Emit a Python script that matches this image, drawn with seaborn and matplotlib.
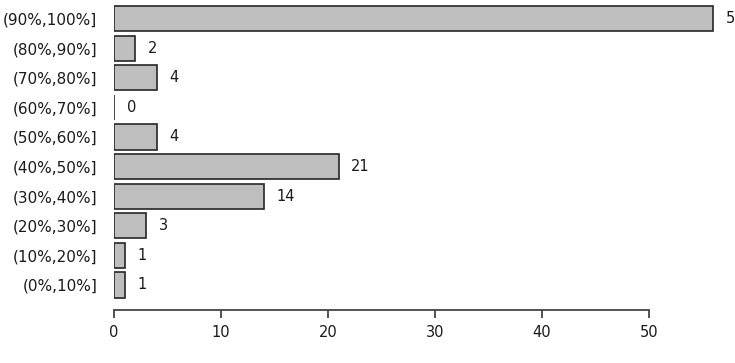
import matplotlib
matplotlib.use("Agg")
import matplotlib.pyplot as plt
import seaborn as sns
import pandas as pd

categories = ["(90%,100%]", "(80%,90%]", "(70%,80%]", "(60%,70%]", "(50%,60%]",
              "(40%,50%]", "(30%,40%]", "(20%,30%]", "(10%,20%]", "(0%,10%]"]
counts = [56, 2, 4, 0, 4, 21, 14, 3, 1, 1]
xticks = [0, 10, 20, 30, 40, 50]

sns.set_style("white")
plt.rcParams["font.family"] = ["DejaVu Sans"]

df = pd.DataFrame({"cat": categories, "n": counts})

fig = plt.figure(figsize=(7.35, 3.63), dpi=100)
W, H = 735, 363
left, right = 114, 735
top, bottom = 3.7, 299.8
ax = fig.add_axes([left / W, 1 - bottom / H, (right - left) / W, (bottom - top) / H])

sns.barplot(data=df, x="n", y="cat", order=categories, color="#bebebe",
            saturation=1, width=0.85, edgecolor="#262626", linewidth=1.2, ax=ax)

units_per_px = 10 / 107.0
ax.set_xlim(0, (right - left) * units_per_px)
ax.set_ylim(9.5, -0.5)

for i, v in enumerate(counts):
    ax.annotate(str(v), xy=(v, i), xytext=(9, 0), textcoords="offset points",
                ha="left", va="center", fontsize=10.5, color="#1a1a1a",
                annotation_clip=False)

for s in ["top", "right", "left"]:
    ax.spines[s].set_visible(False)
ax.spines["bottom"].set_bounds(0, 50)
ax.spines["bottom"].set_position(("outward", 7))
ax.spines["bottom"].set_color("#444444")
ax.spines["bottom"].set_linewidth(1.3)
ax.set_xticks(xticks)
ax.set_xticklabels([str(t) for t in xticks])
ax.tick_params(axis="x", length=6, width=1.3, color="#444444", pad=5,
               labelsize=10.5, labelcolor="#1a1a1a", bottom=True)
ax.tick_params(axis="y", length=0, pad=12, labelsize=11, labelcolor="#1a1a1a")
ax.set_xlabel("")
ax.set_ylabel("")
ax.grid(False)

fig.savefig("out.png", dpi=100)
